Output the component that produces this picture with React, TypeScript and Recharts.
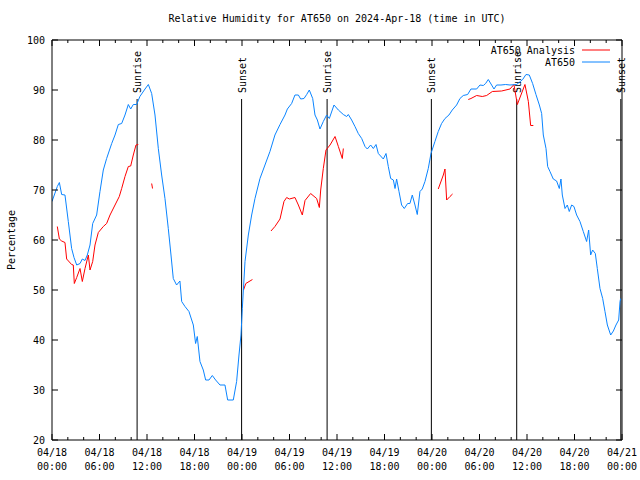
import React from 'react';
import { ComposedChart, Legend, Line, ReferenceLine, XAxis, YAxis } from 'recharts';

const FONT = '"DejaVu Sans Mono", "Liberation Mono", monospace';
const BLUE = '#0a84ff';
const RED = '#ff0000';

// hours since 04/18 00:00 UTC, relative humidity %
const at650: [number, number][] = [
  [0, 67.7], [0.67, 70.7], [0.93, 71.5], [1.22, 69.1], [1.64, 69.0], [2.06, 63.7], [2.48, 58.3],
  [2.78, 56.5], [3.12, 55.0], [3.54, 55.3], [3.83, 56.2], [4.17, 55.9], [4.46, 57.0], [4.8, 59.0],
  [5.14, 63.3], [5.64, 65.0], [6.06, 69.7], [6.48, 74.0], [6.9, 76.3], [7.54, 79.3], [7.96, 81.0],
  [8.38, 83.1], [8.8, 83.3], [9.22, 85.0], [9.64, 87.1], [9.94, 86.2], [10.27, 87.1], [10.69, 87.1],
  [11.1, 88.7], [11.75, 90.2], [12.17, 91.1], [12.59, 89.3], [13.01, 85.0], [13.43, 78.3],
  [13.85, 73.0], [14.27, 68.3], [14.69, 62.3], [15.03, 57.0], [15.32, 52.3], [15.74, 51.0],
  [16.16, 51.8], [16.38, 47.7], [16.8, 46.7], [17.3, 45.7], [17.85, 43.0], [18.14, 39.3],
  [18.35, 40.7], [18.69, 35.7], [19.11, 34.0], [19.41, 32.0], [19.83, 32.0], [20.25, 32.9],
  [20.67, 32.0], [21.22, 31.0], [21.85, 31.0], [22.19, 28.0], [22.9, 28.0], [23.32, 31.7],
  [23.62, 37.0], [23.87, 41.0], [24.04, 46.3], [24.38, 55.7], [24.8, 61.0], [25.22, 65.0],
  [25.64, 68.3], [26.27, 72.3], [26.9, 75.0], [27.53, 77.7], [28.16, 81.0], [28.8, 83.1],
  [29.43, 85.0], [29.73, 86.2], [30.27, 87.3], [30.69, 89.0], [31.12, 89.0], [31.41, 88.2],
  [31.83, 88.3], [32.17, 89.1], [32.5, 90.0], [32.93, 88.3], [33.22, 85.0], [33.52, 84.0],
  [33.85, 82.2], [34.27, 83.7], [34.69, 85.0], [35.03, 84.3], [35.62, 87.0], [36.17, 86.0],
  [36.8, 85.1], [37.22, 84.7], [37.43, 85.1], [37.85, 84.0], [38.27, 82.7], [38.69, 81.3],
  [39.12, 80.3], [39.54, 78.7], [39.83, 78.2], [40.25, 79.0], [40.59, 78.3], [40.93, 79.1],
  [41.22, 77.3], [41.85, 76.2], [42.19, 77.3], [42.48, 74.7], [42.78, 72.3], [43.12, 72.0],
  [43.33, 70.3], [43.53, 72.2], [43.83, 69.7], [44.16, 67.0], [44.5, 66.3], [44.92, 67.3],
  [45.21, 67.3], [45.51, 69.0], [45.85, 67.0], [46.14, 65.1], [46.48, 69.7], [46.77, 70.2],
  [47.11, 71.7], [47.53, 74.3], [47.87, 77.3], [48.37, 79.7], [48.79, 81.7], [49.21, 83.3],
  [49.64, 84.3], [50.14, 85.0], [50.56, 86.0], [51.11, 87.0], [51.53, 88.3], [51.95, 88.9],
  [52.5, 89.1], [52.92, 90.2], [53.64, 90.2], [54.06, 91.0], [54.48, 90.9], [54.77, 91.3],
  [55.11, 92.1], [55.53, 91.0], [55.83, 90.2], [56.16, 91.0], [56.71, 91.0], [57.3, 91.1],
  [57.85, 91.0], [58.69, 91.1], [59.45, 92.1], [59.87, 93.1], [60.29, 93.0], [60.71, 91.3],
  [61.13, 89.1], [61.56, 87.0], [61.85, 85.3], [62.06, 81.0], [62.4, 78.3], [62.61, 74.7],
  [62.9, 73.7], [63.32, 72.2], [63.74, 71.8], [64.08, 70.3], [64.29, 72.2], [64.46, 69.0],
  [64.8, 66.3], [65.09, 67.0], [65.34, 65.7], [65.64, 67.0], [65.93, 66.7], [66.27, 65.0],
  [66.69, 63.7], [67.11, 61.7], [67.53, 59.7], [67.79, 62.0], [68.04, 57.0], [68.29, 58.0],
  [68.63, 57.3], [68.88, 54.3], [69.22, 50.3], [69.56, 48.3], [69.85, 45.7], [70.15, 43.0],
  [70.57, 41.0], [70.91, 41.8], [71.24, 43.0], [71.58, 44.0], [71.75, 47.7], [71.83, 48.3],
];

// analysis values come in broken pieces
const analysisSegments: [number, number][][] = [
  [
    [0.67, 62.7], [0.93, 60.2], [1.22, 59.8], [1.64, 59.5], [1.85, 56.2], [2.48, 55.1], [2.69, 55.0],
    [2.82, 51.3], [3.12, 52.5], [3.54, 54.3], [3.83, 51.7], [4.17, 54.3], [4.59, 57.0], [4.8, 54.0],
    [5.14, 55.7], [5.43, 59.0], [5.85, 61.5], [6.48, 62.7], [6.9, 63.3], [7.33, 65.0], [7.96, 67.0],
    [8.5, 68.7], [8.8, 70.3], [9.22, 72.7], [9.64, 74.7], [9.94, 74.8], [10.27, 77.0], [10.61, 79.0],
    [10.9, 79.1],
  ],
  [[12.59, 71.3], [12.7, 70.3]],
  [[24.19, 50.0], [24.48, 51.3], [25.32, 52.1]],
  [
    [27.66, 61.8], [28.16, 62.7], [28.8, 64.2], [29.3, 67.7], [29.64, 68.5], [29.98, 68.2],
    [30.69, 68.5], [31.12, 67.0], [31.62, 65.0], [31.96, 67.9], [32.67, 69.3], [33.43, 68.3],
    [33.77, 66.5], [33.94, 70.0], [34.27, 74.3], [34.61, 78.0], [35.12, 79.0], [35.75, 80.7],
    [36.17, 78.7], [36.67, 76.3], [36.8, 78.3],
  ],
  [[48.79, 70.2], [49.43, 73.0], [49.64, 74.2], [49.85, 68.0], [50.27, 68.7], [50.6, 69.2]],
  [
    [52.58, 88.1], [52.92, 88.3], [53.64, 88.9], [54.35, 88.7], [54.9, 88.9], [55.62, 89.7],
    [56.79, 89.8], [57.85, 90.2], [58.35, 91.1], [58.78, 87.1], [59.74, 91.1], [60.17, 87.7],
    [60.46, 82.9], [60.8, 82.9],
  ],
];

const sunEvents = [
  { h: 10.75, label: 'Sunrise' },
  { h: 23.95, label: 'Sunset' },
  { h: 34.75, label: 'Sunrise' },
  { h: 47.92, label: 'Sunset' },
  { h: 58.7, label: 'Sunrise' },
  { h: 71.85, label: 'Sunset' },
];

const dayLabels = ['04/18', '04/19', '04/20', '04/21'];
const hourLabels = ['00:00', '06:00', '12:00', '18:00'];
const xTicks = Array.from({ length: 37 }, (_, i) => i * 2);
const yTicks = [20, 30, 40, 50, 60, 70, 80, 90, 100];

const blueData = at650.map(([h, v]) => ({ h, v }));
const redData = analysisSegments.flatMap((seg, i) => {
  const pts: { h: number; v: number | null }[] = seg.map(([h, v]) => ({ h, v }));
  if (i < analysisSegments.length - 1) pts.push({ h: seg[seg.length - 1][0] + 0.05, v: null });
  return pts;
});

const txt = { fontFamily: FONT, fontSize: 10, fill: '#000' };

const BottomTick = ({ x, y, payload }: any) => {
  const h = payload.value;
  const major = h % 6 === 0;
  return (
    <g>
      <line x1={x} x2={x} y1={y} y2={y - (major ? 6 : 3)} stroke="#000" />
      {major && (
        <>
          <text x={x} y={y + 16} textAnchor="middle" {...txt}>{dayLabels[Math.floor(h / 24)]}</text>
          <text x={x} y={y + 30} textAnchor="middle" {...txt}>{hourLabels[(h % 24) / 6]}</text>
        </>
      )}
    </g>
  );
};

const TopTick = ({ x, y, payload }: any) => (
  <line x1={x} x2={x} y1={y} y2={y + (payload.value % 6 === 0 ? 6 : 3)} stroke="#000" />
);

const LeftTick = ({ x, y, payload }: any) => (
  <g>
    <line x1={x} x2={x + 6} y1={y} y2={y} stroke="#000" />
    <text x={x - 7} y={y + 3.5} textAnchor="end" {...txt}>{payload.value}</text>
  </g>
);

const RightTick = ({ x, y }: any) => <line x1={x} x2={x - 6} y1={y} y2={y} stroke="#000" />;

const SunMark = ({ viewBox, text }: any) => {
  const { x, y, height } = viewBox;
  return (
    <g>
      <line x1={x} x2={x} y1={y + 59} y2={y + height} stroke="#000" />
      <text x={x + 4} y={y + 53} transform={`rotate(-90 ${x + 4} ${y + 53})`} {...txt}>{text}</text>
    </g>
  );
};

const LegendBox = ({ payload }: any) => {
  const order = ['AT650 Analysis', 'AT650'];
  const items = [...(payload || [])].sort((a, b) => order.indexOf(a.value) - order.indexOf(b.value));
  return (
    <svg width={145} height={28} style={{ display: 'block', overflow: 'visible' }}>
      {items.map((p: any, i: number) => (
        <g key={p.value}>
          <text x={105} y={8 + i * 12 + 3.5} textAnchor="end" {...txt}>{p.value}</text>
          <line x1={112} x2={140} y1={8 + i * 12} y2={8 + i * 12} stroke={p.color} />
        </g>
      ))}
    </svg>
  );
};

export default function App() {
  return (
    <div style={{ position: 'absolute', left: 0, top: 0, width: 640, height: 480, background: '#fff' }}>
      <div
        style={{
          position: 'absolute', left: 0, top: 13, width: 674, textAlign: 'center',
          fontFamily: FONT, fontSize: 10, lineHeight: '12px', color: '#000',
        }}
      >
        Relative Humidity for AT650 on 2024-Apr-18 (time in UTC)
      </div>
      <ComposedChart width={640} height={480} margin={{ top: 39, right: 17, bottom: 0, left: 0 }}>
        <XAxis
          dataKey="h" type="number" domain={[0, 72]} ticks={xTicks} interval={0}
          tickSize={0} tickMargin={0} tick={<BottomTick />} height={40}
          axisLine={{ stroke: '#000' }} allowDataOverflow
        />
        <XAxis
          xAxisId="top" orientation="top" dataKey="h" type="number" domain={[0, 72]} ticks={xTicks}
          interval={0} tickSize={0} tickMargin={0} tick={<TopTick />} height={1}
          axisLine={{ stroke: '#000' }} allowDataOverflow
        />
        <YAxis
          type="number" domain={[20, 100]} ticks={yTicks} interval={0} width={52}
          tickSize={0} tickMargin={0} tick={<LeftTick />} axisLine={{ stroke: '#000' }} allowDataOverflow
          label={{
            content: ({ viewBox }: any) => (
              <text
                x={15} y={viewBox.y + viewBox.height / 2} textAnchor="middle"
                transform={`rotate(-90 15 ${viewBox.y + viewBox.height / 2})`} {...txt}
              >
                Percentage
              </text>
            ),
          }}
        />
        <YAxis
          yAxisId="right" orientation="right" type="number" domain={[20, 100]} ticks={yTicks}
          interval={0} width={1} tickSize={0} tickMargin={0} tick={<RightTick />}
          axisLine={{ stroke: '#000' }} allowDataOverflow
        />
        {sunEvents.map((s, i) => (
          <ReferenceLine
            key={i} x={s.h} stroke="none"
            label={{ content: (props: any) => <SunMark viewBox={props.viewBox} text={s.label} /> }}
          />
        ))}
        <Line
          data={redData} dataKey="v" name="AT650 Analysis" xAxisId="top" yAxisId="right"
          stroke={RED} strokeWidth={1} dot={false} activeDot={false} connectNulls={false}
          type="linear" isAnimationActive={false}
        />
        <Line
          data={blueData} dataKey="v" name="AT650" stroke={BLUE} strokeWidth={1} dot={false}
          activeDot={false} type="linear" isAnimationActive={false}
        />
        <Legend
          layout="horizontal" verticalAlign="middle" align="center" content={<LegendBox />}
          wrapperStyle={{ top: 42, left: 470, width: 145, height: 28 }}
        />
      </ComposedChart>
    </div>
  );
}
